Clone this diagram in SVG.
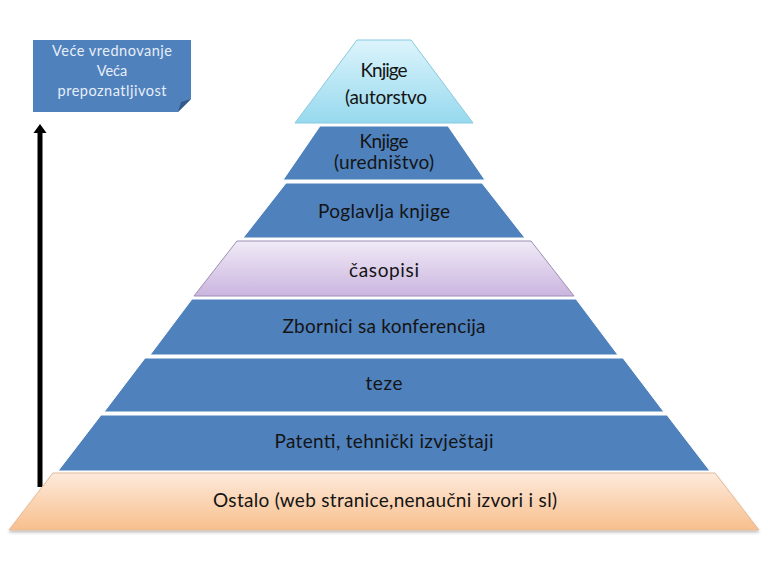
<svg xmlns="http://www.w3.org/2000/svg" width="768" height="576" viewBox="0 0 768 576">
<defs>
<linearGradient id="gTop" x1="0" y1="0" x2="0" y2="1">
<stop offset="0" stop-color="#dcf4fc"/><stop offset="1" stop-color="#97d9ee"/>
</linearGradient>
<linearGradient id="gLav" x1="0" y1="0" x2="0" y2="1">
<stop offset="0" stop-color="#f0eaf7"/><stop offset="1" stop-color="#cbb5df"/>
</linearGradient>
<linearGradient id="gPeach" x1="0" y1="0" x2="0" y2="1">
<stop offset="0" stop-color="#fdeadc"/><stop offset="1" stop-color="#f8bf8c"/>
</linearGradient>
<filter id="sh" x="-5%" y="-10%" width="110%" height="130%">
<feDropShadow dx="0" dy="2" stdDeviation="1.5" flood-color="#000" flood-opacity="0.25"/>
</filter>
</defs>
<style>
.blue{fill:#4f81bd;stroke:#ffffff;stroke-width:1}
.lbl{font-family:Lato,"Open Sans","Liberation Sans",sans-serif;font-size:19px;fill:#141414;text-anchor:middle}
.wl{font-family:Lato,"Open Sans","Liberation Sans",sans-serif;font-size:14.5px;fill:#e8eef8;text-anchor:middle}
</style>
<rect width="768" height="576" fill="#ffffff"/>

<g id="legend">
<path d="M33,40 H191 V99 L178,112 H33 Z" fill="#4f81bd"/>
<path d="M191,99 L178,112 L181,102 Z" fill="#34598a"/>
<text class="wl" x="112" y="56" textLength="120">Veće vrednovanje</text>
<text class="wl" x="112" y="76">Veća</text>
<text class="wl" x="112" y="96" textLength="109">prepoznatljivost</text>
</g>

<g id="connectors">
<rect x="37.5" y="131" width="5" height="356" fill="#000"/>
<polygon points="40,124 33.5,133 46.5,133" fill="#000"/>
</g>

<g id="layer8">
<polygon points="53,473 715,473 759,530 9,530" fill="url(#gPeach)" stroke="#e3bb98" stroke-width="1" filter="url(#sh)"/>
<text class="lbl" x="385" y="507" textLength="344">Ostalo (web stranice,nenaučni izvori i sl)</text>
</g>
<g id="layer7">
<polygon class="blue" points="101,415 667,415 710,471 58,471"/>
<text class="lbl" x="384" y="448" textLength="219">Patenti, tehnički izvještaji</text>
</g>
<g id="layer6">
<polygon class="blue" points="145,358 623,358 664,412 104,412"/>
<text class="lbl" x="384" y="390" textLength="37">teze</text>
</g>
<g id="layer5">
<polygon class="blue" points="192,299 576,299 618,355 150,355"/>
<text class="lbl" x="384" y="333" textLength="203">Zbornici sa konferencija</text>
</g>
<g id="layer4">
<polygon points="237,241 531,241 574,296 194,296" fill="url(#gLav)" stroke="#9c8fb3" stroke-width="1"/>
<text class="lbl" x="384" y="277" textLength="70">časopisi</text>
</g>
<g id="layer3">
<polygon class="blue" points="286,183 482,183 525,238 243,238"/>
<text class="lbl" x="384" y="218" textLength="132">Poglavlja knjige</text>
</g>
<g id="layer2">
<polygon class="blue" points="320,126 448,126 485,180 283,180"/>
<text class="lbl" x="384" y="148" textLength="49">Knjige</text>
<text class="lbl" x="384" y="169" textLength="100">(uredništvo)</text>
</g>
<g id="layer1">
<polygon points="357,40 411,40 473,123 295,123" fill="url(#gTop)" stroke="#86c9de" stroke-width="1"/>
<text class="lbl" x="384" y="77" textLength="47">Knjige</text>
<text class="lbl" x="386" y="104" textLength="82">(autorstvo</text>
</g>
</svg>
